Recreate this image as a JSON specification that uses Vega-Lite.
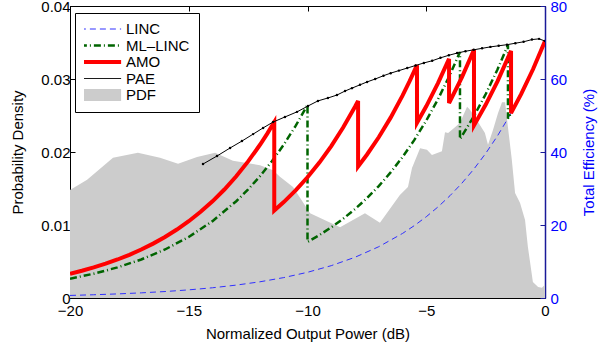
{
 "$schema":"https://vega.github.io/schema/vega-lite/v6.json",
 "width":475,"height":292,
 "autosize":{"type":"none"},
 "padding":{"left":70,"top":6,"right":55,"bottom":47},
 "config":{
   "font":"Liberation Sans",
   "view":{"stroke":"#000000","strokeWidth":1},
   "axis":{"labelFontSize":15,"titleFontSize":15,"titleFontWeight":"normal","labelColor":"#000","titleColor":"#000","domainColor":"#000","tickColor":"#000","grid":false,"tickSize":-5,"labelPadding":4,"labelFlush":false,"labelOverlap":false}
 },
 "datasets":{
  "pdf":[
   {"s":"PDF","x":-20,"p":0.0148},{"s":"PDF","x":-19.28,"p":0.0162},{"s":"PDF","x":-18.19,"p":0.0192},{"s":"PDF","x":-17.14,"p":0.0199},
   {"s":"PDF","x":-16.21,"p":0.0192},{"s":"PDF","x":-15.45,"p":0.0184},{"s":"PDF","x":-14.65,"p":0.0193},{"s":"PDF","x":-13.89,"p":0.0199},
   {"s":"PDF","x":-13.14,"p":0.0188},{"s":"PDF","x":-12.0,"p":0.0182},{"s":"PDF","x":-11.45,"p":0.0175},{"s":"PDF","x":-11.16,"p":0.0166},
   {"s":"PDF","x":-10.61,"p":0.0152},{"s":"PDF","x":-9.89,"p":0.0116},{"s":"PDF","x":-8.63,"p":0.0097},{"s":"PDF","x":-7.58,"p":0.0116},
   {"s":"PDF","x":-6.95,"p":0.0103},{"s":"PDF","x":-6.11,"p":0.0141},{"s":"PDF","x":-5.77,"p":0.0152},{"s":"PDF","x":-5.6,"p":0.0178},
   {"s":"PDF","x":-5.26,"p":0.0205},{"s":"PDF","x":-4.97,"p":0.0203},{"s":"PDF","x":-4.76,"p":0.0196},{"s":"PDF","x":-4.34,"p":0.0201},
   {"s":"PDF","x":-4.21,"p":0.0227},{"s":"PDF","x":-4.08,"p":0.0226},{"s":"PDF","x":-3.79,"p":0.0234},{"s":"PDF","x":-3.58,"p":0.024},
   {"s":"PDF","x":-3.28,"p":0.0262},{"s":"PDF","x":-3.16,"p":0.0258},{"s":"PDF","x":-2.95,"p":0.0248},{"s":"PDF","x":-2.74,"p":0.0237},
   {"s":"PDF","x":-2.53,"p":0.0226},{"s":"PDF","x":-2.4,"p":0.021},{"s":"PDF","x":-2.19,"p":0.023},{"s":"PDF","x":-1.98,"p":0.0253},
   {"s":"PDF","x":-1.81,"p":0.0268},{"s":"PDF","x":-1.68,"p":0.0268},{"s":"PDF","x":-1.56,"p":0.0234},{"s":"PDF","x":-1.4,"p":0.019},
   {"s":"PDF","x":-1.26,"p":0.0144},{"s":"PDF","x":-1.05,"p":0.013},{"s":"PDF","x":-0.84,"p":0.0107},{"s":"PDF","x":-0.72,"p":0.007},
   {"s":"PDF","x":-0.51,"p":0.0022},{"s":"PDF","x":-0.29,"p":0.0015},{"s":"PDF","x":-0.13,"p":0.0014},{"s":"PDF","x":0,"p":0.0018}
  ],
  "eff":[
   {"s":"LINC","i":0,"x":-20,"e":0.70},{"s":"LINC","i":1,"x":-19,"e":0.89},{"s":"LINC","i":2,"x":-18,"e":1.12},{"s":"LINC","i":3,"x":-17,"e":1.41},
   {"s":"LINC","i":4,"x":-16,"e":1.77},{"s":"LINC","i":5,"x":-15,"e":2.23},{"s":"LINC","i":6,"x":-14,"e":2.80},{"s":"LINC","i":7,"x":-13,"e":3.53},
   {"s":"LINC","i":8,"x":-12,"e":4.44},{"s":"LINC","i":9,"x":-11,"e":5.59},{"s":"LINC","i":10,"x":-10,"e":7.04},{"s":"LINC","i":11,"x":-9,"e":8.86},
   {"s":"LINC","i":12,"x":-8,"e":11.16},{"s":"LINC","i":13,"x":-7,"e":14.05},{"s":"LINC","i":14,"x":-6,"e":17.68},{"s":"LINC","i":15,"x":-5.5,"e":19.84},
   {"s":"LINC","i":16,"x":-5,"e":22.26},{"s":"LINC","i":17,"x":-4.5,"e":24.98},{"s":"LINC","i":18,"x":-4,"e":28.03},{"s":"LINC","i":19,"x":-3.5,"e":31.45},
   {"s":"LINC","i":20,"x":-3,"e":35.28},{"s":"LINC","i":21,"x":-2.5,"e":39.59},{"s":"LINC","i":22,"x":-2,"e":44.42},{"s":"LINC","i":23,"x":-1.5,"e":49.84},
   {"s":"LINC","i":24,"x":-1,"e":55.92},{"s":"LINC","i":25,"x":-0.5,"e":62.74},{"s":"LINC","i":26,"x":0,"e":70.4},

   {"s":"ML–LINC","i":0,"x":-20,"e":5.29},{"s":"ML–LINC","i":1,"x":-19,"e":6.66},{"s":"ML–LINC","i":2,"x":-18,"e":8.38},{"s":"ML–LINC","i":3,"x":-17,"e":10.56},
   {"s":"ML–LINC","i":4,"x":-16,"e":13.29},{"s":"ML–LINC","i":5,"x":-15,"e":16.73},{"s":"ML–LINC","i":6,"x":-14,"e":21.06},{"s":"ML–LINC","i":7,"x":-13,"e":26.51},
   {"s":"ML–LINC","i":8,"x":-12.5,"e":29.75},{"s":"ML–LINC","i":9,"x":-12,"e":33.38},{"s":"ML–LINC","i":10,"x":-11.5,"e":37.45},{"s":"ML–LINC","i":11,"x":-11,"e":42.02},
   {"s":"ML–LINC","i":12,"x":-10.5,"e":47.15},{"s":"ML–LINC","i":13,"x":-10,"e":52.9},{"s":"ML–LINC","i":14,"x":-10,"e":15.37},{"s":"ML–LINC","i":15,"x":-9.5,"e":17.24},
   {"s":"ML–LINC","i":16,"x":-9,"e":19.35},{"s":"ML–LINC","i":17,"x":-8.5,"e":21.71},{"s":"ML–LINC","i":18,"x":-8,"e":24.36},{"s":"ML–LINC","i":19,"x":-7.5,"e":27.33},
   {"s":"ML–LINC","i":20,"x":-7,"e":30.67},{"s":"ML–LINC","i":21,"x":-6.5,"e":34.41},{"s":"ML–LINC","i":22,"x":-6,"e":38.61},{"s":"ML–LINC","i":23,"x":-5.5,"e":43.32},
   {"s":"ML–LINC","i":24,"x":-5,"e":48.60},{"s":"ML–LINC","i":25,"x":-4.5,"e":54.53},{"s":"ML–LINC","i":26,"x":-4,"e":61.19},{"s":"ML–LINC","i":27,"x":-3.58,"e":67.4},
   {"s":"ML–LINC","i":28,"x":-3.58,"e":43.52},{"s":"ML–LINC","i":29,"x":-3,"e":49.74},{"s":"ML–LINC","i":30,"x":-2.5,"e":55.81},{"s":"ML–LINC","i":31,"x":-2,"e":62.62},
   {"s":"ML–LINC","i":32,"x":-1.56,"e":69.3},{"s":"ML–LINC","i":33,"x":-1.56,"e":49.15},{"s":"ML–LINC","i":34,"x":-1,"e":55.92},{"s":"ML–LINC","i":35,"x":-0.5,"e":62.74},
   {"s":"ML–LINC","i":36,"x":0,"e":70.4},

   {"s":"AMO","i":0,"x":-20,"e":6.65},{"s":"AMO","i":1,"x":-19.5,"e":7.47},{"s":"AMO","i":2,"x":-19,"e":8.38},{"s":"AMO","i":3,"x":-18.5,"e":9.40},
   {"s":"AMO","i":4,"x":-18,"e":10.55},{"s":"AMO","i":5,"x":-17.5,"e":11.83},{"s":"AMO","i":6,"x":-17,"e":13.28},{"s":"AMO","i":7,"x":-16.5,"e":14.90},
   {"s":"AMO","i":8,"x":-16,"e":16.71},{"s":"AMO","i":9,"x":-15.5,"e":18.75},{"s":"AMO","i":10,"x":-15,"e":21.04},{"s":"AMO","i":11,"x":-14.5,"e":23.61},
   {"s":"AMO","i":12,"x":-14,"e":26.49},{"s":"AMO","i":13,"x":-13.5,"e":29.72},{"s":"AMO","i":14,"x":-13,"e":33.35},{"s":"AMO","i":15,"x":-12.5,"e":37.42},
   {"s":"AMO","i":16,"x":-12,"e":41.98},{"s":"AMO","i":17,"x":-11.7,"e":44.98},{"s":"AMO","i":18,"x":-11.4,"e":48.2},{"s":"AMO","i":19,"x":-11.4,"e":23.95},
   {"s":"AMO","i":20,"x":-11,"e":26.27},{"s":"AMO","i":21,"x":-10.5,"e":29.47},{"s":"AMO","i":22,"x":-10,"e":33.07},{"s":"AMO","i":23,"x":-9.5,"e":37.10},
   {"s":"AMO","i":24,"x":-9,"e":41.63},{"s":"AMO","i":25,"x":-8.5,"e":46.71},{"s":"AMO","i":26,"x":-8,"e":52.41},{"s":"AMO","i":27,"x":-7.87,"e":54.0},
   {"s":"AMO","i":28,"x":-7.87,"e":36.04},{"s":"AMO","i":29,"x":-7.5,"e":39.25},{"s":"AMO","i":30,"x":-7,"e":44.04},{"s":"AMO","i":31,"x":-6.5,"e":49.41},
   {"s":"AMO","i":32,"x":-6,"e":55.44},{"s":"AMO","i":33,"x":-5.7,"e":59.40},{"s":"AMO","i":34,"x":-5.39,"e":63.8},{"s":"AMO","i":35,"x":-5.39,"e":48.0},
   {"s":"AMO","i":36,"x":-5,"e":52.51},{"s":"AMO","i":37,"x":-4.5,"e":58.92},{"s":"AMO","i":38,"x":-4.04,"e":65.5},{"s":"AMO","i":39,"x":-4.04,"e":53.4},
   {"s":"AMO","i":40,"x":-3.5,"e":60.47},{"s":"AMO","i":41,"x":-2.99,"e":68.0},{"s":"AMO","i":42,"x":-2.99,"e":47.27},{"s":"AMO","i":43,"x":-2.5,"e":52.92},
   {"s":"AMO","i":44,"x":-2,"e":59.37},{"s":"AMO","i":45,"x":-1.43,"e":67.7},{"s":"AMO","i":46,"x":-1.43,"e":50.65},{"s":"AMO","i":47,"x":-1,"e":55.92},
   {"s":"AMO","i":48,"x":-0.5,"e":62.74},{"s":"AMO","i":49,"x":0,"e":70.4},

   {"s":"PAE","i":0,"x":-14.4,"e":36.7},{"s":"PAE","i":1,"x":-13.81,"e":38.9},{"s":"PAE","i":2,"x":-13.26,"e":41.1},{"s":"PAE","i":3,"x":-12.76,"e":43.0},
   {"s":"PAE","i":4,"x":-12.29,"e":44.9},{"s":"PAE","i":5,"x":-11.87,"e":46.6},{"s":"PAE","i":6,"x":-11.45,"e":48.2},{"s":"PAE","i":7,"x":-10.95,"e":49.6},
   {"s":"PAE","i":8,"x":-10.44,"e":51.0},{"s":"PAE","i":9,"x":-9.98,"e":52.6},{"s":"PAE","i":10,"x":-9.56,"e":54.0},{"s":"PAE","i":11,"x":-9.14,"e":54.8},
   {"s":"PAE","i":12,"x":-8.76,"e":55.6},{"s":"PAE","i":13,"x":-8.42,"e":56.7},{"s":"PAE","i":14,"x":-8.13,"e":57.5},{"s":"PAE","i":15,"x":-7.79,"e":58.4},
   {"s":"PAE","i":16,"x":-7.49,"e":59.2},{"s":"PAE","i":17,"x":-7.15,"e":60.0},{"s":"PAE","i":18,"x":-6.8,"e":60.9},{"s":"PAE","i":19,"x":-6.5,"e":61.6},
   {"s":"PAE","i":20,"x":-6.15,"e":62.3},{"s":"PAE","i":21,"x":-5.8,"e":63.0},{"s":"PAE","i":22,"x":-5.45,"e":63.7},{"s":"PAE","i":23,"x":-5.1,"e":64.4},
   {"s":"PAE","i":24,"x":-4.75,"e":65.0},{"s":"PAE","i":25,"x":-4.4,"e":65.8},{"s":"PAE","i":26,"x":-4.05,"e":66.5},{"s":"PAE","i":27,"x":-3.7,"e":67.1},
   {"s":"PAE","i":28,"x":-3.35,"e":67.6},{"s":"PAE","i":29,"x":-3.0,"e":68.0},{"s":"PAE","i":30,"x":-2.65,"e":68.4},{"s":"PAE","i":31,"x":-2.3,"e":68.8},
   {"s":"PAE","i":32,"x":-1.95,"e":69.1},{"s":"PAE","i":33,"x":-1.6,"e":69.4},{"s":"PAE","i":34,"x":-1.25,"e":69.8},{"s":"PAE","i":35,"x":-0.9,"e":70.2},
   {"s":"PAE","i":36,"x":-0.55,"e":70.8},{"s":"PAE","i":37,"x":-0.25,"e":71.0},{"s":"PAE","i":38,"x":0,"e":70.4}
  ]
 },
 "resolve":{"scale":{"y":"independent"}},
 "layer":[
  {"data":{"name":"pdf"},
   "mark":{"type":"area","clip":true},
   "encoding":{
    "x":{"field":"x","type":"quantitative","scale":{"domain":[-20,0],"nice":false,"zero":false},
         "axis":{"orient":"bottom","values":[-20,-15,-10,-5,0],"title":"Normalized Output Power (dB)","labelPadding":10,"titlePadding":8}},
    "y":{"field":"p","type":"quantitative","scale":{"domain":[0,0.04],"nice":false},
         "axis":{"orient":"left","values":[0,0.01,0.02,0.03,0.04],"format":"~g","title":"Probability Density","labelPadding":5,"titlePadding":15}},
    "color":{"field":"s","type":"nominal",
      "scale":{"domain":["LINC","ML–LINC","AMO","PAE","PDF"],"range":["#3030ff","#006400","#ff0000","#000000","#cccccc"]},
      "legend":{"orient":"none","legendX":5,"legendY":7,"title":null,"symbolType":"stroke","symbolSize":1700,"clipHeight":14,
        "rowPadding":1.5,"labelFontSize":15,"labelOffset":18,"symbolOffset":9,"padding":9,"strokeColor":"#000","fillColor":"#fff","labelColor":"#000",
        "encode":{"symbols":{"update":{
          "stroke":{"scale":"color","field":"value"},
          "fill":{"value":"transparent"},
          "opacity":{"value":1},
          "strokeWidth":{"signal":"datum.value==='AMO'?4:(datum.value==='PDF'?12:(datum.value==='ML–LINC'?2.5:1))"},
          "strokeDash":{"signal":"datum.value==='LINC'?[6,4]:(datum.value==='ML–LINC'?[7,3,1,3]:[1,0])"}
        }}}}}
   }},
  {"data":{"name":"eff"},
   "encoding":{
    "x":{"field":"x","type":"quantitative","axis":{"orient":"top","labels":false,"title":null,"values":[-20,-15,-10,-5,0]}},
    "y":{"field":"e","type":"quantitative","scale":{"domain":[0,80],"nice":false},
         "axis":{"orient":"right","values":[0,20,40,60,80],"title":"Total Efficiency (%)","titleAngle":270,"labelPadding":10,"titlePadding":30,
                 "labelColor":"#0000ff","titleColor":"#0000ff","domainColor":"#1a1a99","tickColor":"#1a1a99","domainWidth":1.5}},
    "color":{"field":"s","type":"nominal"},
    "order":{"field":"i","type":"quantitative"}
   },
   "layer":[
    {"transform":[{"filter":{"field":"s","equal":"LINC"}}],"mark":{"type":"line","strokeWidth":1,"strokeDash":[6,4],"clip":true}},
    {"transform":[{"filter":{"field":"s","equal":"ML–LINC"}}],"mark":{"type":"line","strokeWidth":2.5,"strokeDash":[7,3,1,3],"clip":true}},
    {"transform":[{"filter":{"field":"s","equal":"AMO"}}],"mark":{"type":"line","strokeWidth":4,"clip":true}},
    {"transform":[{"filter":{"field":"s","equal":"PAE"}}],"mark":{"type":"line","strokeWidth":1,"clip":true,"point":{"filled":true,"size":6}}}
   ]}
 ]
}
